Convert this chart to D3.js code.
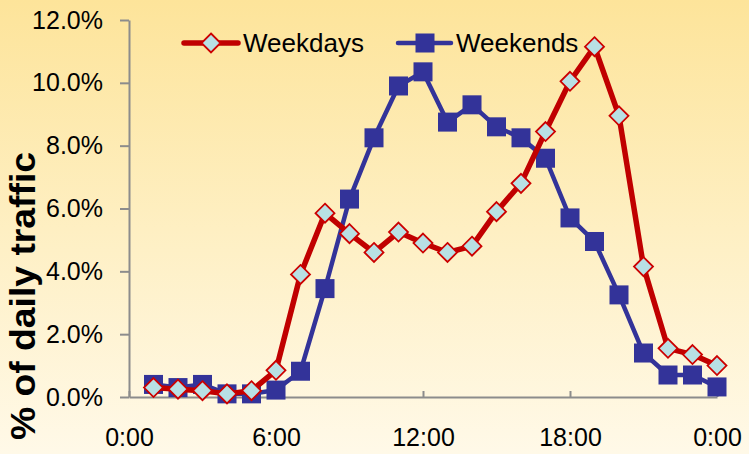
<!DOCTYPE html>
<html>
<head>
<meta charset="utf-8">
<script src="https://cdn.jsdelivr.net/npm/d3@7"></script>
<style>
  html, body { margin: 0; padding: 0; }
  svg { display: block; font-family: "Liberation Sans", Arial, sans-serif; }
</style>
</head>
<body>
<svg id="chart" width="749" height="454"></svg>
<script>
// Hour of day (1:00 .. 24:00) for each reading
const hours = [1,2,3,4,5,6,7,8,9,10,11,12,13,14,15,16,17,18,19,20,21,22,23,24];
// Share of daily traffic (%) per hour
const weekdays = [0.3,0.25,0.2,0.1,0.2,0.85,3.9,5.85,5.2,4.6,5.25,4.9,4.6,4.8,5.9,6.8,8.45,10.05,11.15,8.95,4.15,1.55,1.35,1.0];
const weekends = [0.4,0.3,0.4,0.1,0.1,0.22,0.82,3.45,6.3,8.25,9.9,10.35,8.75,9.3,8.6,8.25,7.6,5.7,4.95,3.25,1.4,0.7,0.7,0.32];
const xTickValues = [0,6,12,18,24];
const xTickLabels = ["0:00","6:00","12:00","18:00","0:00"];
const yTickValues = [0,2,4,6,8,10,12];
const seriesNames = ["Weekdays","Weekends"];

const W = 749, H = 454;
const svg = d3.select("#chart");

// warm background gradient
const defs = svg.append("defs");
const grad = defs.append("linearGradient").attr("id","bg").attr("x1",0).attr("y1",0).attr("x2",0).attr("y2",1);
grad.append("stop").attr("offset","0%").attr("stop-color","#fde49a");
grad.append("stop").attr("offset","55%").attr("stop-color","#fef0c6");
grad.append("stop").attr("offset","100%").attr("stop-color","#fff9e8");
svg.append("rect").attr("width",W).attr("height",H).attr("fill","url(#bg)");

const x = d3.scaleLinear().domain([0,24]).range([129,717]);
const y = d3.scaleLinear().domain([0,12]).range([397,20]);

// axes
const xAxis = d3.axisBottom(x).tickValues(xTickValues)
  .tickFormat((d,i) => xTickLabels[i]).tickSizeInner(6).tickSizeOuter(0).tickPadding(25);
const yAxis = d3.axisLeft(y).tickValues(yTickValues)
  .tickFormat(d => d.toFixed(1) + "%").tickSizeInner(9).tickSizeOuter(0).tickPadding(17);

const gx = svg.append("g").attr("transform",`translate(0,${y(0)})`).call(xAxis);
const gy = svg.append("g").attr("transform",`translate(${x(0)},0)`).call(yAxis);
[gx, gy].forEach(g => {
  g.selectAll("path.domain").attr("stroke","#8c8c8c").attr("stroke-width",2);
  g.selectAll(".tick line").attr("stroke","#8c8c8c").attr("stroke-width",2);
  g.selectAll(".tick text").attr("fill","#000").attr("font-size","25px")
    .attr("font-family","'Liberation Sans', Arial, sans-serif");
});
// x ticks point up into the plot
gx.selectAll(".tick line").attr("y1",-6).attr("y2",0);

// y-axis title
svg.append("text")
  .attr("transform",`translate(35,296) rotate(-90)`)
  .attr("text-anchor","middle")
  .attr("font-size","35px").attr("font-weight","bold").attr("fill","#000")
  .attr("textLength",288).attr("lengthAdjust","spacingAndGlyphs")
  .text("% of daily traffic");

const line = d3.line().x((d,i) => x(hours[i])).y(d => y(d));

// weekends series
svg.append("path").datum(weekends).attr("d",line)
  .attr("fill","none").attr("stroke","#333399").attr("stroke-width",4.5).attr("stroke-linejoin","round");
const sq = 19;
svg.append("g").selectAll("rect").data(weekends).join("rect")
  .attr("x",(d,i) => x(hours[i]) - sq/2).attr("y",d => y(d) - sq/2)
  .attr("width",sq).attr("height",sq).attr("fill","#333399");

// weekdays series
svg.append("path").datum(weekdays).attr("d",line)
  .attr("fill","none").attr("stroke","#c00000").attr("stroke-width",5.5).attr("stroke-linejoin","round");
const dm = 9.5;
const diamond = (cx, cy) => `M${cx},${cy-dm}L${cx+dm},${cy}L${cx},${cy+dm}L${cx-dm},${cy}Z`;
svg.append("g").selectAll("path").data(weekdays).join("path")
  .attr("d",(d,i) => diamond(x(hours[i]), y(d)))
  .attr("fill","#b8e0e4").attr("stroke","#cc0000").attr("stroke-width",1.8);

// legend
const lg = svg.append("g");
const ly = 43;
lg.append("line").attr("x1",184).attr("x2",238).attr("y1",ly).attr("y2",ly)
  .attr("stroke","#c00000").attr("stroke-width",5.5).attr("stroke-linecap","round");
lg.append("path").attr("d",diamond(211,ly)).attr("fill","#b8e0e4").attr("stroke","#cc0000").attr("stroke-width",1.8);
lg.append("text").attr("x",243).attr("y",52).attr("font-size","26px").attr("fill","#000").text(seriesNames[0]);

lg.append("line").attr("x1",398).attr("x2",451).attr("y1",ly).attr("y2",ly)
  .attr("stroke","#333399").attr("stroke-width",4.5).attr("stroke-linecap","round");
lg.append("rect").attr("x",425-sq/2).attr("y",ly-sq/2).attr("width",sq).attr("height",sq).attr("fill","#333399");
lg.append("text").attr("x",456).attr("y",52).attr("font-size","26px").attr("fill","#000").text(seriesNames[1]);
</script>
</body>
</html>
